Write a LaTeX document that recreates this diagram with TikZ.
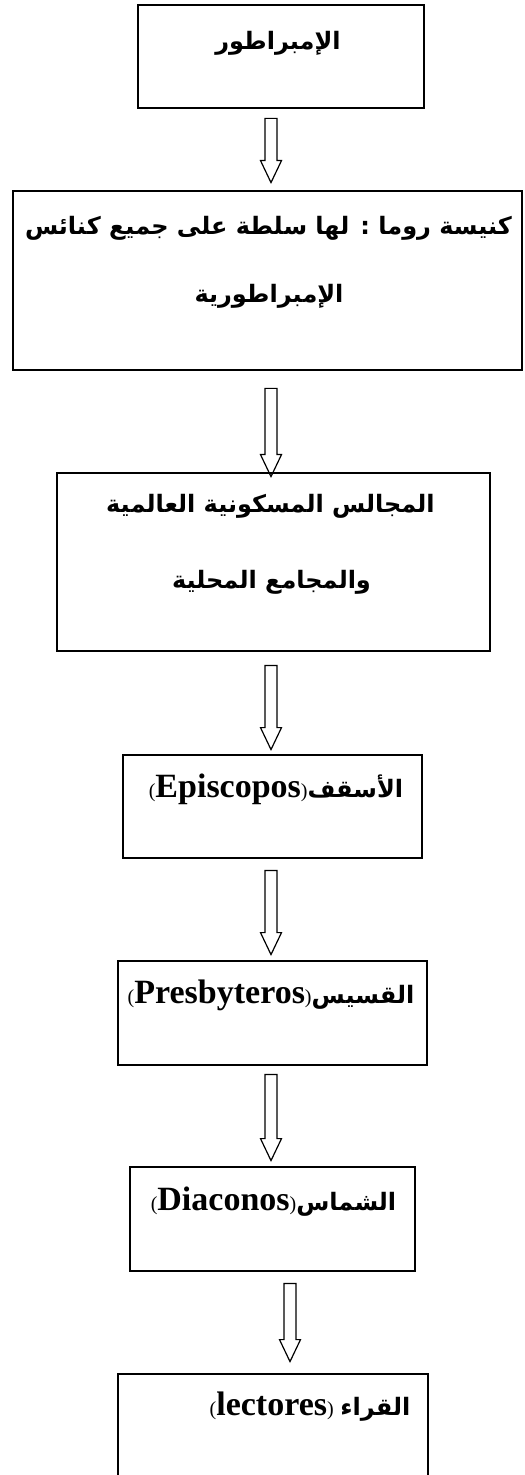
\documentclass[tikz,border=0pt]{standalone}
\usepackage{fontspec}
\usetikzlibrary{calc}
\TeXXeTstate=1
\newfontfamily\arabicfont[Script=Arabic]{DejaVu Sans}
\newfontfamily\latinfont{Liberation Serif}
\newcommand{\ar}[1]{{\arabicfont\bfseries\fontsize{12}{14}\selectfont\beginR #1\endR}}
\newcommand{\la}[1]{{\latinfont\bfseries\fontsize{17}{19}\selectfont #1}}
\newcommand{\pr}[1]{{\latinfont\fontsize{10}{12}\selectfont #1}}

\begin{document}
\begin{tikzpicture}[x=0.5pt, y=-0.5pt, box node/.style={rectangle,draw,line width=1.4pt,inner sep=0pt}, txt node/.style={anchor=base,inner sep=0pt}, arrow edge/.style={draw,line width=0.6pt,to path={let \p1=(\tikztostart), \p2=(\tikztotarget) in (\x1-3pt,\y1) -- (\x1+3pt,\y1) -- (\x1+3pt,\y2+11pt) -- (\x1+5.25pt,\y2+11pt) -- (\x1,\y2) -- (\x1-5.25pt,\y2+11pt) -- (\x1-3pt,\y2+11pt) -- cycle}}]
\useasboundingbox (0,0) rectangle (524,1475);
\clip (0,0) rectangle (524,1475);
\coordinate (ax) at (271,0);
\coordinate (ax2) at (290,0);
\begin{scope}
\node[box node,minimum width=143pt,minimum height=51.5pt] (b1) at (281,56.5) {};
\node[box node,minimum width=254.5pt,minimum height=89.5pt] (b2) at (267.5,280.5) {};
\node[box node,minimum width=216.5pt,minimum height=89pt] (b3) at (273.5,562) {};
\node[box node,minimum width=149.5pt,minimum height=51.5pt] (b4) at (272.5,806.5) {};
\node[box node,minimum width=154.5pt,minimum height=52pt] (b5) at (272.5,1013) {};
\node[box node,minimum width=142.5pt,minimum height=52pt] (b6) at (272.5,1219) {};
\node[box node,minimum width=155pt,minimum height=55pt] (b7) at (273,1429) {};
\end{scope}
\begin{scope}[every node/.style={txt node}]
\node (t1) at (278,50) {\ar{الإمبراطور}};
\node (t2) at (268.5,235) {\ar{كنيسة روما : لها سلطة على جميع كنائس}};
\node (t3) at (269,303) {\ar{الإمبراطورية}};
\node (t4) at (270.5,512) {\ar{المجالس المسكونية العالمية}};
\node (t5) at (271.5,588) {\ar{والمجامع المحلية}};
\node (t6) at (276,797) {\pr{(}\la{Episcopos}\pr{)}\ar{الأسقف}};
\node (t7) at (271,1003) {\pr{(}\la{Presbyteros}\pr{)}\ar{القسيس}};
\node (t8) at (273.5,1210) {\pr{(}\la{Diaconos}\pr{)}\ar{الشماس}};
\node (t9) at (310,1415) {\pr{(}\la{lectores}\pr{)} \ar{القراء}};
\end{scope}
\begin{scope}
\draw[arrow edge] ($(b1.south -| ax)+(0,9)$) to ($(b2.north -| ax)+(0,-7)$);
\draw[arrow edge] ($(b2.south -| ax)+(0,17)$) to ($(b3.north -| ax)+(0,5)$);
\draw[arrow edge] ($(b3.south -| ax)+(0,13)$) to ($(b4.north -| ax)+(0,-4)$);
\draw[arrow edge] ($(b4.south -| ax)+(0,11)$) to ($(b5.north -| ax)+(0,-5)$);
\draw[arrow edge] ($(b5.south -| ax)+(0,8)$) to ($(b6.north -| ax)+(0,-5)$);
\draw[arrow edge] ($(b6.south -| ax2)+(0,11)$) to ($(b7.north -| ax2)+(0,-11)$);
\end{scope}
\end{tikzpicture}
\end{document}
